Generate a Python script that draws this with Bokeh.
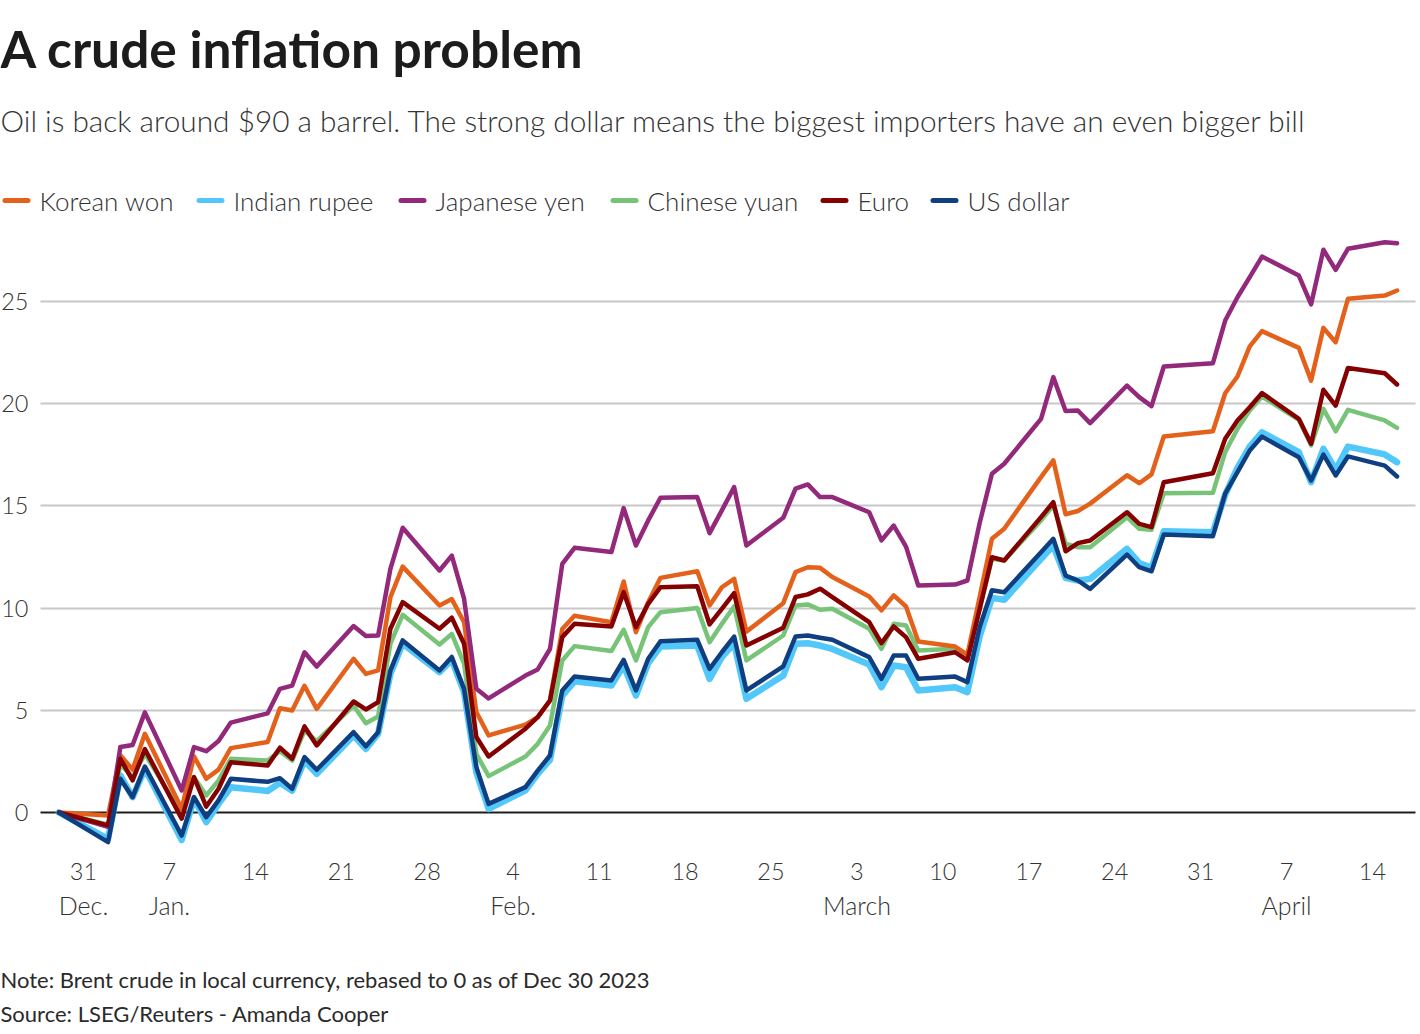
import pandas as pd
from bokeh.plotting import figure
from bokeh.models import (FixedTicker, Range1d, ColumnDataSource, CustomJSTickFormatter,
                          DatetimeAxis, LinearAxis, Grid)
from bokeh.core.properties import value
from bokeh.embed import file_html
from bokeh.resources import INLINE

# ---------------- data ----------------
dates = [
    "2023-12-29",
    "2024-01-02", "2024-01-03", "2024-01-04", "2024-01-05",
    "2024-01-08", "2024-01-09", "2024-01-10", "2024-01-11", "2024-01-12",
    "2024-01-15", "2024-01-16", "2024-01-17", "2024-01-18", "2024-01-19",
    "2024-01-22", "2024-01-23", "2024-01-24", "2024-01-25", "2024-01-26",
    "2024-01-29", "2024-01-30", "2024-01-31", "2024-02-01", "2024-02-02",
    "2024-02-05", "2024-02-06", "2024-02-07", "2024-02-08", "2024-02-09",
    "2024-02-12", "2024-02-13", "2024-02-14", "2024-02-15", "2024-02-16",
    "2024-02-19", "2024-02-20", "2024-02-21", "2024-02-22", "2024-02-23",
    "2024-02-26", "2024-02-27", "2024-02-28", "2024-02-29", "2024-03-01",
    "2024-03-04", "2024-03-05", "2024-03-06", "2024-03-07", "2024-03-08",
    "2024-03-11", "2024-03-12", "2024-03-13", "2024-03-14", "2024-03-15",
    "2024-03-18", "2024-03-19", "2024-03-20", "2024-03-21", "2024-03-22",
    "2024-03-25", "2024-03-26", "2024-03-27", "2024-03-28",
    "2024-04-01", "2024-04-02", "2024-04-03", "2024-04-04", "2024-04-05",
    "2024-04-08", "2024-04-09", "2024-04-10", "2024-04-11", "2024-04-12",
    "2024-04-15", "2024-04-16",
]

korean_won = [0,
    -0.15, 2.8, 2.1, 3.85,
    0.18, 2.75, 1.65, 2.1, 3.15,
    3.45, 5.1, 4.99, 6.2, 5.07,
    7.52, 6.78, 6.95, 10.53, 12.03,
    10.13, 10.44, 9.31, 4.91, 3.77,
    4.3, 4.67, 5.48, 8.98, 9.63,
    9.31, 11.3, 8.82, 10.29, 11.48,
    11.8, 10.13, 11.02, 11.43, 8.85,
    10.24, 11.76, 12.0, 11.97, 11.52,
    10.57, 9.89, 10.62, 10.08, 8.37,
    8.12, 7.72, 10.54, 13.39, 13.88,
    16.41, 17.23, 14.59, 14.75, 15.11,
    16.5, 16.11, 16.54, 18.4,
    18.65, 20.51, 21.33, 22.8, 23.55,
    22.73, 21.13, 23.71, 23.01, 25.13,
    25.29, 25.54]

indian_rupee = [0,
    -1.29, 1.81, 0.75, 2.14,
    -1.34, 0.67, -0.47, 0.42, 1.24,
    1.05, 1.45, 1.07, 2.54, 1.89,
    3.77, 3.11, 3.85, 6.79, 8.26,
    6.87, 7.47, 5.89, 1.97, 0.18,
    1.08, 1.89, 2.58, 5.72, 6.42,
    6.21, 7.19, 5.72, 7.31, 8.12,
    8.17, 6.54, 7.6, 8.28, 5.56,
    6.7, 8.25, 8.28, 8.17, 8.0,
    7.24, 6.13, 7.19, 7.11, 5.97,
    6.13, 5.89, 8.62, 10.5, 10.41,
    12.41, 13.06, 11.48, 11.35, 11.43,
    12.9, 12.2, 11.97, 13.76,
    13.71, 15.55, 16.86, 17.9, 18.6,
    17.63, 16.16, 17.79, 16.76, 17.9,
    17.52, 17.14]

japanese_yen = [0,
    -0.7, 3.2, 3.3, 4.9,
    1.08, 3.2, 3.0, 3.5, 4.4,
    4.85, 6.05, 6.21, 7.84, 7.14,
    9.12, 8.63, 8.66, 11.92, 13.93,
    11.84, 12.57, 10.46, 6.05, 5.58,
    6.7, 7.0, 8.0, 12.16, 12.95,
    12.74, 14.89, 13.06, 14.29, 15.4,
    15.43, 13.67, 14.78, 15.92, 13.06,
    14.42, 15.84, 16.05, 15.43, 15.43,
    14.69, 13.31, 14.04, 13.01, 11.1,
    11.15, 11.35, 14.16, 16.57, 17.06,
    19.26, 21.3, 19.64, 19.67, 19.05,
    20.89, 20.32, 19.88, 21.82,
    21.98, 24.07, 25.21, 26.19, 27.2,
    26.27, 24.86, 27.53, 26.55, 27.58,
    27.9, 27.85]

chinese_yuan = [0,
    -0.6, 2.38, 1.73, 2.87,
    -0.06, 1.73, 0.83, 1.57, 2.63,
    2.54, 3.0, 2.54, 4.01, 3.49,
    5.23, 4.37, 4.7, 8.26, 9.67,
    8.22, 8.74, 7.28, 2.87, 1.78,
    2.74, 3.36, 4.26, 7.44, 8.14,
    7.9, 8.94, 7.44, 9.07, 9.8,
    10.01, 8.33, 9.23, 10.08, 7.44,
    8.66, 10.13, 10.18, 9.92, 9.97,
    8.99, 8.01, 9.23, 9.15, 7.93,
    8.01, 7.68, 10.0, 12.41, 12.33,
    14.29, 15.02, 13.15, 12.98, 12.98,
    14.45, 13.88, 13.83, 15.62,
    15.64, 17.63, 18.77, 19.67, 20.35,
    19.21, 17.96, 19.75, 18.65, 19.7,
    19.18, 18.82]

euro = [0,
    -0.63, 2.63, 1.57, 3.1,
    -0.3, 1.73, 0.29, 1.16, 2.46,
    2.3, 3.17, 2.63, 4.21, 3.28,
    5.43, 5.04, 5.4, 8.99, 10.29,
    8.99, 9.53, 8.26, 3.69, 2.74,
    4.1, 4.67, 5.48, 8.58, 9.23,
    9.1, 10.78, 9.07, 10.21, 11.02,
    11.07, 9.2, 9.96, 10.73, 8.17,
    9.04, 10.54, 10.67, 10.95, 10.54,
    9.31, 8.29, 9.1, 8.58, 7.52,
    7.84, 7.44, 9.96, 12.49, 12.33,
    14.45, 15.18, 12.78, 13.18, 13.31,
    14.69, 14.12, 13.96, 16.16,
    16.6, 18.28, 19.18, 19.83, 20.52,
    19.26, 18.04, 20.68, 19.91, 21.75,
    21.49, 20.94]

us_dollar = [0,
    -1.45, 1.65, 0.75, 2.25,
    -1.13, 0.75, -0.23, 0.59, 1.65,
    1.5, 1.68, 1.16, 2.71, 2.09,
    3.93, 3.24, 3.93, 6.95, 8.42,
    6.95, 7.61, 6.05, 2.22, 0.42,
    1.24, 2.05, 2.79, 5.97, 6.65,
    6.46, 7.47, 5.97, 7.52, 8.38,
    8.45, 7.03, 7.84, 8.61, 5.97,
    7.15, 8.61, 8.66, 8.55, 8.45,
    7.6, 6.54, 7.68, 7.68, 6.54,
    6.65, 6.38, 9.07, 10.87, 10.78,
    12.73, 13.39, 11.59, 11.35, 10.94,
    12.62, 12.0, 11.8, 13.6,
    13.52, 15.6, 16.65, 17.71, 18.39,
    17.38, 16.24, 17.51, 16.49, 17.42,
    16.97, 16.44]

series_names = ["Korean won", "Indian rupee", "Japanese yen", "Chinese yuan", "Euro", "US dollar"]
series_keys = ["won", "rupee", "yen", "yuan", "euro", "usd"]

tick_dates = ["2023-12-31", "2024-01-07", "2024-01-14", "2024-01-21", "2024-01-28",
              "2024-02-04", "2024-02-11", "2024-02-18", "2024-02-25", "2024-03-03",
              "2024-03-10", "2024-03-17", "2024-03-24", "2024-03-31", "2024-04-07",
              "2024-04-14"]
tick_labels = ["31", "7", "14", "21", "28", "4", "11", "18", "25", "3",
               "10", "17", "24", "31", "7", "14"]
month_dates = ["2023-12-31", "2024-01-07", "2024-02-04", "2024-03-03", "2024-04-07"]
month_names = ["Dec.", "Jan.", "Feb.", "March", "April"]
y_ticks = [0, 5, 10, 15, 20, 25]

title_text = "A crude inflation problem"
subtitle_text = ("Oil is back around $90 a barrel. The strong dollar means the biggest "
                 "importers have an even bigger bill")
note_text = "Note: Brent crude in local currency, rebased to 0 as of Dec 30 2023"
source_text = "Source: LSEG/Reuters - Amanda Cooper"

# ---------------- layout (page pixels) ----------------
W, H = 1416, 1030
PLOT_L, PLOT_R, PLOT_B = 40, 1415, 849
ZERO_Y, Y25 = 812, 301
PPU = (ZERO_Y - Y25) / 25.0
DAY = 86400000.0
X_DEC31, X_APR14 = 83, 1372
PX_DAY = (X_APR14 - X_DEC31) / 105.0

LIGHT = "Lato Light"
REG = "Lato"
TXT = "#333333"

colors = {"won": "#e4611b", "rupee": "#52c7fa", "yen": "#93297a",
          "yuan": "#77c479", "euro": "#850000", "usd": "#0f3f80"}
widths = {"won": 4.5, "rupee": 6.5, "yen": 4.5, "yuan": 4.5, "euro": 4.5, "usd": 4.5}


def ms(d):
    return pd.Timestamp(d).value / 1e6


dec31 = ms("2023-12-31")
x_page0 = dec31 - X_DEC31 / PX_DAY * DAY


def X(px):  # page x -> data x (ms)
    return x_page0 + px / PX_DAY * DAY


def Y(py):  # page y -> data y
    return (ZERO_Y - py) / PPU


p = figure(width=W, height=H, output_backend="svg", toolbar_location=None, title=None,
           x_range=Range1d(X(0), X(W)), y_range=Range1d(Y(H), Y(0)),
           x_axis_location=None, y_axis_location=None, min_border=0,
           outline_line_color=None, background_fill_color="white",
           border_fill_color="white")
p.grid.visible = False

# ---------------- grid & zero line ----------------
if "cross_bounds" in Grid.properties():
    p.add_layout(Grid(dimension=1, ticker=FixedTicker(ticks=[t for t in y_ticks if t != 0]),
                      cross_bounds=(X(PLOT_L), X(PLOT_R)),
                      grid_line_color="#c8c8c8", grid_line_width=2))
    p.add_layout(Grid(dimension=1, ticker=FixedTicker(ticks=[0]),
                      cross_bounds=(X(PLOT_L), X(PLOT_R)),
                      grid_line_color="#1e1e1e", grid_line_width=2))
else:
    gl = [t for t in y_ticks if t != 0]
    p.segment(x0=[X(PLOT_L)] * len(gl), x1=[X(PLOT_R)] * len(gl), y0=gl, y1=gl,
              line_color="#c8c8c8", line_width=2)
    p.segment(x0=[X(PLOT_L)], x1=[X(PLOT_R)], y0=[0], y1=[0],
              line_color="#1e1e1e", line_width=2)

# ---------------- series ----------------
src = ColumnDataSource(dict(
    date=pd.to_datetime(dates), won=korean_won, rupee=indian_rupee, yen=japanese_yen,
    yuan=chinese_yuan, euro=euro, usd=us_dollar))

for key in ["rupee", "yuan", "won", "yen", "euro", "usd"]:
    p.line("date", key, source=src, line_color=colors[key], line_width=widths[key],
           line_join="round", line_cap="round")

# ---------------- axes (fixed inside the canvas) ----------------
yax = LinearAxis(fixed_location=X(PLOT_L), ticker=FixedTicker(ticks=y_ticks))
xax = DatetimeAxis(fixed_location=Y(PLOT_B), ticker=FixedTicker(ticks=[ms(d) for d in tick_dates]))
xax.formatter = CustomJSTickFormatter(
    args=dict(names={str(int(ms(d))): t for d, t in zip(tick_dates, tick_labels)}),
    code="return names[String(tick)] || '';")
max_ = DatetimeAxis(fixed_location=Y(PLOT_B), ticker=FixedTicker(ticks=[ms(d) for d in month_dates]))
max_.formatter = CustomJSTickFormatter(
    args=dict(names={str(int(ms(d))): t for d, t in zip(month_dates, month_names)}),
    code="return names[String(tick)] || '';")

for ax in (yax, xax, max_):
    ax.axis_line_color = None
    ax.major_tick_line_color = None
    ax.minor_tick_line_color = None
    ax.major_tick_out = 0
    ax.major_tick_in = 0
    ax.major_label_text_font = LIGHT
    ax.major_label_text_color = TXT

yax.major_label_text_font_size = "23.5px"
xax.major_label_text_font_size = "23.5px"
max_.major_label_text_font_size = "25px"
yax.major_label_standoff = 12
xax.major_label_standoff = 13
max_.major_label_standoff = 40

p.add_layout(yax, "left")
p.add_layout(xax, "below")
p.add_layout(max_, "below")


# ---------------- texts ----------------
def page_text(text, px, py_mid, size, font, color, style="normal"):
    p.text(x=[X(px)], y=[Y(py_mid)], text=[text], text_font=value(font),
           text_font_style=style, text_font_size=value(size), text_color=color,
           text_baseline="middle", text_align="left")


page_text(title_text, 0, 47, "51.5px", REG, "#1c1c1c", "bold")
page_text(subtitle_text, 0, 120, "29.8px", LIGHT, TXT)
page_text(note_text, 0, 979, "22px", REG, "#2a2a2a")
page_text(source_text, 0, 1013, "22px", REG, "#2a2a2a")

# legend
legend_x = [2, 196, 398, 610, 820, 930]
leg = ColumnDataSource(dict(
    x0=[X(x + 2.5) for x in legend_x], x1=[X(x + 25.5) for x in legend_x],
    tx=[X(x + 37) for x in legend_x], y=[Y(200)] * 6, name=series_names,
    color=[colors[k] for k in series_keys]))
p.segment(x0="x0", y0="y", x1="x1", y1="y", source=leg, line_color="color",
          line_width=5, line_cap="round")
p.text(x="tx", y="y", text="name", source=leg, text_font=value(LIGHT),
       text_font_size=value("26px"), text_color=TXT, text_baseline="middle",
       text_align="left")

open("out.html", "w").write(file_html(p, INLINE))
